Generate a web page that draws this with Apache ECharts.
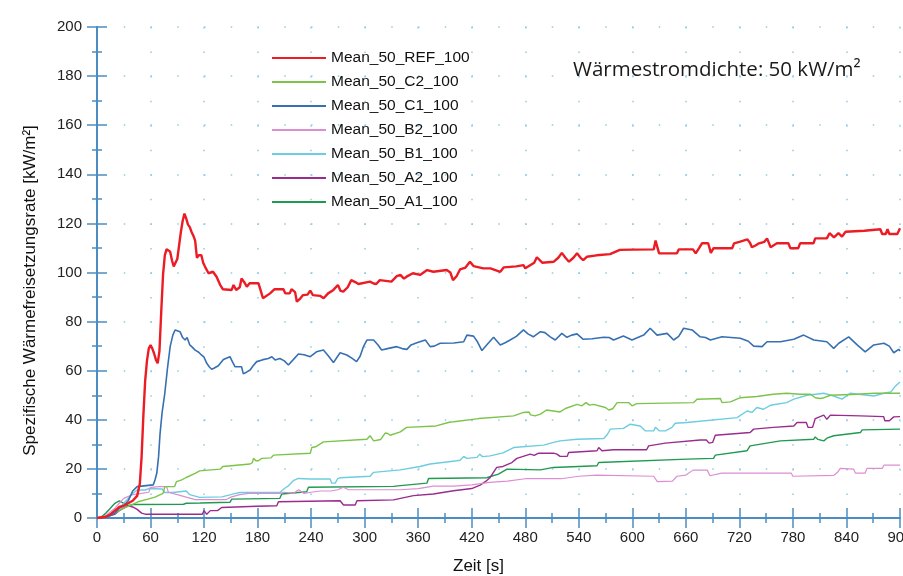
<!DOCTYPE html>
<html>
<head>
<meta charset="utf-8">
<script src="https://cdn.jsdelivr.net/npm/echarts@6/dist/echarts.min.js"></script>
<style>
  html, body { margin: 0; padding: 0; background: #fff; }
  #chart { width: 903px; height: 576px; }
</style>
</head>
<body>
<div id="chart"></div>
<script>
// Heat release rate per specimen, [time s, kW/m²]
const REF_100 = [[0,0],[10,0.5],[15,1.5],[20,3],[25,4.5],[30,5],[35,6],[40,7],[45,9],[48,14],[50,25],[52,42],[54,56],[56,64],[58,69],[60,70.5],[62,69],[64,67],[66,64.5],[68,63],[70,68],[72,84],[74,99],[76,107],[78,109.5],[80,110],[82,108.5],[84,105],[86,102.5],[88,102.5],[90,105.5],[92,111],[94,116.5],[96,121],[98,124],[100,122],[102,119.5],[104,118.5],[106,116.5],[108,115],[110,113],[112,106],[114,107],[117,107],[119,104],[121,102.4],[125,99.7],[130,100.3],[134,98.3],[138,95],[141,93.2],[151,92.9],[153,94.9],[156,92.9],[160,94],[162,97.6],[166,95.5],[168,94.2],[171,95.6],[181,95.6],[184,92],[186,89.5],[194,91.5],[199,93.2],[209,93.2],[211,91.5],[216,91.5],[218,93.2],[222,92],[224,88.1],[228,89.5],[231,90.8],[236,91],[239,92.6],[242,90.8],[250,90.5],[254,89.5],[259,91.5],[265,92.9],[270,94.9],[273,92.5],[276,92.2],[281,94],[285,96.9],[290,96],[293,95.3],[306,96.3],[310,95.5],[313,95.3],[317,96.9],[330,96.3],[336,98.5],[340,99],[344,97.5],[347,98.3],[354,99.7],[362,99],[370,101],[372,101.7],[377,100.3],[392,101],[396,100],[399,96.9],[403,98.5],[407,101.3],[413,102],[418,104.4],[422,102.6],[433,101.7],[441,101.7],[452,100.3],[456,102.1],[470,102.5],[478,103],[480,101.7],[490,104],[493,106.2],[499,104],[512,104.4],[517,106],[521,108],[525,106],[529,104.4],[534,106],[538,107.8],[542,106],[545,105],[549,106.4],[560,107],[575,107.5],[586,109.2],[600,109.3],[624,109.4],[626,113],[630,107.8],[650,107.8],[652,109.4],[668,109.4],[671,107.8],[675,110],[678,111.9],[685,111.9],[688,108],[691,109.9],[712,109.9],[714,111.9],[720,112.5],[729,113.5],[732,112],[734,110.3],[738,111],[742,111.9],[748,112.5],[751,113.9],[755,110.3],[762,111.9],[775,111.9],[777,109.9],[786,109.9],[788,111.9],[803,111.9],[805,113.9],[818,113.9],[821,116],[826,114.3],[831,116],[835,114.6],[839,116.6],[860,117],[878,117.6],[880,115.7],[884,115.7],[886,117.6],[888,115.7],[897,115.7],[900,118]];

const C2_100 = [[0,0],[10,0.5],[20,2],[30,4],[40,5.5],[46,6.6],[55,7.5],[65,8.5],[74,10],[76,12.8],[87,12.8],[89,14.8],[95,15.5],[100,16.5],[110,18.2],[115,19.2],[138,19.9],[141,21],[171.6,22],[174,22.5],[175.5,24.3],[178,23.3],[181,23.3],[184.6,24.3],[195,24.5],[197.8,25.6],[239,26.4],[240.8,28.7],[245,29],[253.8,31],[302.5,32.1],[306,33.5],[308,32.5],[310,31.4],[318,32],[323,34.6],[326,34.4],[328.6,33.7],[340,35.1],[347,36.9],[380,37.5],[396,39.1],[400,39.2],[427.8,40.5],[467,41.6],[478,43],[484,43.2],[486,42],[491,41.6],[497,42.3],[504,44],[519,43.2],[525,44.6],[538,46.3],[540,45.7],[543.5,45.7],[548,47],[552,46],[556.6,46.3],[569.8,45],[573.6,44],[578,44.5],[583,47],[596,47],[599.6,45.7],[605,46.6],[668.7,47],[672.5,48.4],[698.7,48.7],[700.5,47],[710,47.3],[721,49],[739.6,49.5],[758,50.4],[773,50.8],[788,50.4],[800,50.4],[805,49],[811,48.7],[815,49],[822,50],[852,50.4],[870.6,50.8],[900,50.8]];

const C1_100 = [[0,0],[10,0.3],[15,1],[20,2],[25,4],[30,5],[35,7],[40,11],[45,12.8],[50,13],[55,13.2],[60,13.4],[63,13.5],[65,15.5],[67,18.2],[69,25],[70.7,34.5],[73,43],[76,50.8],[79,61],[82,69.8],[85,74.5],[87.5,76.6],[90,76.3],[93,75.9],[96,73.5],[98.7,72.5],[101,73.5],[104,70.5],[107,69.5],[110,68.4],[114,67.5],[117,66.4],[120,65.5],[123,63],[126,61.5],[128.6,60.6],[131,61],[136,62],[141.7,64.6],[143.5,65],[149,65.7],[152,63.5],[154.8,61.6],[162,61.6],[164,58.7],[168,59.5],[171.6,60.3],[175,62],[179,63.7],[186,64.5],[192,65],[196,65.7],[199.6,64.4],[205,65],[210,64],[214.5,62.3],[220,64.5],[225.7,66.8],[232,66.5],[239,65.7],[246,67.7],[253.8,68.4],[259.4,66],[265,63.3],[269,65.5],[272.5,67.3],[280,66.4],[286,65],[291,63.7],[295,66],[298.6,69.8],[302.5,72.5],[310,72.5],[315,70.5],[319,68.4],[326.7,69.1],[336,69.8],[342,69],[347.3,68.7],[352,70.5],[358.5,71.4],[368,72.5],[373.4,69.8],[378,70],[384.6,71.2],[400,71.3],[411,71.8],[414.6,74.5],[422,74.1],[426,72],[431.4,68.2],[438,71],[444.5,73.6],[452,70.5],[458,71.5],[463,72.5],[470,74],[478,76.6],[483,75],[489,73.8],[497,75.9],[502,75.5],[508,73.8],[513.6,72.5],[521,75.2],[526.7,73.6],[532,74.5],[538,75],[545,72.8],[555,73],[568,73.6],[574,73.5],[579,72.5],[590,74.1],[599.6,72.5],[612.7,74.5],[620,77.3],[627.7,74.5],[639,75.2],[646.3,72.5],[652,74],[657.5,77.3],[667,76.6],[676,73.8],[682,73.5],[687.5,72.5],[700.5,73.8],[721,73.2],[730,72],[736,70],[745.4,69.8],[751,71.8],[766,71.8],[781,72.8],[792,74.5],[803.4,72.5],[818,71.8],[825.7,69.1],[831.4,71.2],[842.5,73.8],[852,70.5],[861,67.7],[870.6,70.5],[882,71.2],[888,70],[893,67.3],[898.6,68.7],[900,68]];

const B2_100 = [[0,0],[10,1],[20,4],[25,6],[30,8],[40,9.5],[50,10],[58,10.5],[60,12.5],[70,12.8],[78,12.8],[80,10.5],[90,9.5],[100,8.5],[110,7.5],[145,7.5],[150,8.5],[160,9.5],[170,10],[205,10],[210,10.5],[220,10],[226,11.5],[232,10],[240,10.5],[250,11],[262,11],[270,11.5],[276,12.5],[282,11.5],[340,11.5],[360,12],[377,13],[400,13],[420,13.5],[440,14.5],[460,15],[480,16],[520,16],[540,17],[560,17.5],[624,17],[628,14.8],[645,15],[650,17],[660,17.5],[668,19.5],[684,19.5],[687,17.2],[700,18.3],[778,18.3],[780,17],[826,17.4],[830,18.6],[833,20.2],[848,19.9],[850,18.3],[861,18.3],[863,20.2],[880,20.2],[882,21.5],[900,21.5]];

const B1_100 = [[0,0],[10,0.5],[20,2.5],[25,4],[30,6],[35,8],[40,10],[45,11.4],[54,11.4],[58,12],[73,11.8],[76,10.4],[85,10.4],[87,11.2],[100,11],[104,9.5],[115,8.4],[140,8.6],[150,9.5],[153,9.8],[160,10.4],[205,10.4],[210,12],[214.5,13.1],[220,15.2],[225.7,16.1],[239,15.9],[261.3,15.9],[263,14.2],[267,14.2],[269.5,15.9],[272.5,16.4],[306,17],[310,18.6],[340,19.6],[362,21],[373.4,22],[403.4,23.3],[407,23.5],[411,25.1],[414.6,24.3],[426,24.7],[429,26],[432,25],[440.7,25.3],[455,26.5],[467,28.7],[500.6,29.7],[511.7,30.8],[519,31.4],[538,32.1],[568,32.4],[572,34],[575.4,36.2],[590,36.5],[597.6,38.2],[608.8,37.5],[614.4,35.5],[624,35.5],[626,37],[630,35.5],[637,35.5],[644.5,36.9],[648,38.6],[661.3,38.9],[717.4,40.9],[728.6,43.6],[734,43],[739.6,45],[747,44.3],[754.7,45.9],[773,47],[781,48.4],[796,50],[814.6,50.8],[825.7,49.7],[835,48.4],[844.3,50.8],[870.6,49.7],[882,50.8],[889.6,51.3],[895,53.8],[900,55.4]];

const A2_100 = [[0,0],[10,0.5],[20,1.5],[25,3],[30,4],[35,5],[40,4.5],[45,3.5],[50,2],[55,1.5],[118,1.5],[120,3],[123,1.5],[127,3],[135,3],[139.8,4.3],[179,4.8],[201.5,5],[203.3,6.6],[272.5,7],[276.3,5.3],[289.4,5.3],[291.3,7],[332.3,7.4],[354.7,9.1],[377,9.8],[399.6,11.1],[420,12],[429.4,13.4],[436,15],[440.7,16.5],[448,20.6],[455,21],[465,22.6],[470.6,24.3],[485.6,26],[490,25.5],[495,26.4],[511.7,26.4],[515.5,26],[519,25.1],[527,25.1],[528.6,26.7],[560.4,27.4],[562.3,28.7],[566,27.4],[579,27.8],[616,27.8],[618.3,29.4],[637,30.5],[676,31.8],[683,31.8],[686,30.5],[690,30.8],[693,33.7],[732,34.8],[736,36.2],[758,36.9],[781,37.5],[784.6,38.9],[795,38.9],[797,36.9],[802,36.9],[805,40.5],[814.6,41.9],[818,40.2],[822,41.9],[855.6,41.6],[881.7,41.3],[883,39.6],[888,39.6],[893,41.2],[900,41.3]];

const A1_100 = [[0,0],[5,0.5],[10,2],[15,4],[20,6],[25,7],[30,6],[35,5],[40,5.5],[97,5.6],[100,6],[115.5,6.1],[149,6.4],[151,7.7],[205,8],[207,9.8],[235,10.7],[237,12.5],[332.3,12.9],[340,13.2],[369.7,14.2],[371.6,16.1],[437,16.4],[442,17],[450,17.9],[459.5,19.9],[497,19.6],[511.7,20.6],[560.4,21.3],[562.3,22.6],[661.3,24],[691,24.3],[693,25.6],[728.6,27.4],[732,29.4],[766,31.4],[803.4,32.1],[805,33],[808,32],[814.6,31.4],[818,32.5],[825.7,33.5],[855.6,34.8],[857.6,35.9],[900,36.2]];

const legendOrder = ['Mean_50_REF_100','Mean_50_C2_100','Mean_50_C1_100','Mean_50_B2_100','Mean_50_B1_100','Mean_50_A2_100','Mean_50_A1_100'];

const AXIS = '#4b8dc2';
const DOT = '#8fcbe6';
const FONT = '"Liberation Sans", Arial, sans-serif';

// drawn back to front so the reference curve sits on top
const lines = [
  { name: 'Mean_50_A1_100',  data: A1_100,  color: '#1f9a50', width: 1.4 },
  { name: 'Mean_50_A2_100',  data: A2_100,  color: '#9a2c8e', width: 1.4 },
  { name: 'Mean_50_B1_100',  data: B1_100,  color: '#6ccde0', width: 1.4 },
  { name: 'Mean_50_B2_100',  data: B2_100,  color: '#dc8ed2', width: 1.2 },
  { name: 'Mean_50_C2_100',  data: C2_100,  color: '#7cc449', width: 1.4 },
  { name: 'Mean_50_C1_100',  data: C1_100,  color: '#3670b2', width: 1.6 },
  { name: 'Mean_50_REF_100', data: REF_100, color: '#ec1c24', width: 2.4 }
];

const tickStyle = { color: AXIS, width: 1.5 };

const chart = echarts.init(document.getElementById('chart'), null, { renderer: 'canvas' });
chart.setOption({
  animation: false,
  backgroundColor: '#fff',
  title: {
    text: 'Wärmestromdichte: 50 kW/m²',
    left: 573, top: 60, padding: 0,
    textStyle: { fontFamily: '"Open Sans", sans-serif', fontSize: 20.5, fontWeight: 'normal', color: '#1a1a1a' }
  },
  legend: {
    data: legendOrder,
    orient: 'vertical',
    left: 272, top: 50, padding: 0,
    icon: 'rect',
    itemWidth: 54, itemHeight: 2,
    itemGap: 8,
    textStyle: { fontFamily: FONT, fontSize: 15.5, color: '#111', lineHeight: 16 }
  },
  grid: { left: 97, right: 3, top: 27, bottom: 58, containLabel: false, outerBoundsMode: 'none' },
  xAxis: [
    {
      type: 'value', min: 0, max: 900, interval: 60,
      name: 'Zeit [s]', nameLocation: 'middle', nameGap: 40,
      nameTextStyle: { fontFamily: FONT, fontSize: 17, color: '#111', padding: [0, 0, 0, -40] },
      axisLine: { show: true, onZero: false, lineStyle: { color: AXIS, width: 2 } },
      axisTick: { show: true, length: 10, lineStyle: tickStyle },
      minorTick: { show: true, splitNumber: 2, length: 5, lineStyle: tickStyle },
      axisLabel: { margin: 12, fontFamily: FONT, fontSize: 15, color: '#222', showMaxLabel: true, showMinLabel: true, hideOverlap: false },
      splitLine: { show: true, lineStyle: { color: DOT, width: 1.5, type: [1.5, 23.05] } }
    },
    {
      type: 'value', min: 0, max: 900, interval: 60, position: 'bottom',
      axisLine: { show: false },
      axisTick: { show: true, inside: true, length: 10, lineStyle: tickStyle },
      minorTick: { show: true, splitNumber: 2, length: 5, lineStyle: tickStyle },
      axisLabel: { show: false },
      splitLine: { show: false }
    }
  ],
  yAxis: [
    {
      type: 'value', min: 0, max: 200, interval: 20, position: 'left',
      name: 'Spezifische Wärmefreisetzungsrate [kW/m²]', nameLocation: 'middle', nameGap: 58,
      nameTextStyle: { fontFamily: FONT, fontSize: 17, color: '#111', padding: [0, 36, 0, 0] },
      axisLine: { show: true, onZero: false, lineStyle: { color: AXIS, width: 2 } },
      axisTick: { show: true, length: 10, lineStyle: tickStyle },
      minorTick: { show: true, splitNumber: 2, length: 5, lineStyle: tickStyle },
      axisLabel: { margin: 15, fontFamily: FONT, fontSize: 15, color: '#222' },
      splitLine: { show: true, lineStyle: { color: DOT, width: 1.5, type: [1.5, 25.25] } }
    },
    {
      type: 'value', min: 0, max: 200, interval: 20, position: 'left', offset: 0,
      axisLine: { show: false },
      axisTick: { show: true, inside: true, length: 10, lineStyle: tickStyle },
      minorTick: { show: true, splitNumber: 2, length: 5, lineStyle: tickStyle },
      axisLabel: { show: false },
      splitLine: { show: false }
    },
    {
      type: 'value', min: 0, max: 200, position: 'right',
      axisLine: { show: true, lineStyle: { color: AXIS, width: 2 } },
      axisTick: { show: false }, axisLabel: { show: false }, splitLine: { show: false }
    }
  ],
  series: lines.map(l => ({
    name: l.name,
    type: 'line',
    xAxisIndex: 0, yAxisIndex: 0,
    data: l.data,
    showSymbol: false, symbol: 'none',
    color: l.color,
    lineStyle: { color: l.color, width: l.width },
    itemStyle: { color: l.color },
    emphasis: { disabled: true }
  }))
});
</script>
</body>
</html>
